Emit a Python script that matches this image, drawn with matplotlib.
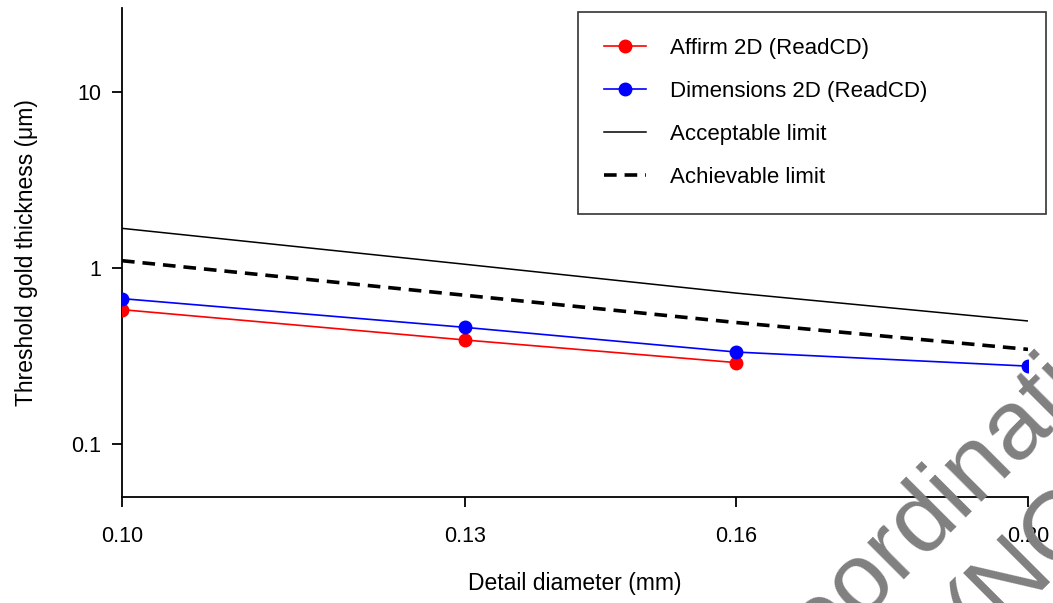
import matplotlib
matplotlib.use("Agg")
import matplotlib.pyplot as plt
from matplotlib.ticker import FixedLocator, FixedFormatter, NullLocator

plt.rcParams['font.family'] = ['Liberation Sans', 'DejaVu Sans']

# data
diameter = [0.10, 0.13, 0.16, 0.20]
affirm_x = [0.10, 0.13, 0.16]
affirm = [0.58, 0.39, 0.29]
dimensions = [0.67, 0.46, 0.333, 0.277]
acceptable = [1.68, 1.05, 0.72, 0.50]
achievable = [1.10, 0.70, 0.49, 0.345]
x_ticks = [0.10, 0.13, 0.16, 0.20]
x_labels = ['0.10', '0.13', '0.16', '0.20']
y_ticks = [0.1, 1, 10]
y_labels = ['0.1', '1', '10']

W, H = 1053, 603
fig = plt.figure(figsize=(W / 100, H / 100), dpi=100)
ax = fig.add_axes([122 / W, 1 - 497 / H, (1028 - 122) / W, (497 - 8) / H])

ax.plot(affirm_x, affirm, color='#ff0000', lw=1.2, marker='o', ms=9,
        label='Affirm 2D (ReadCD)', zorder=4)
ax.plot(diameter, dimensions, color='#0000ff', lw=1.2, marker='o', ms=9,
        label='Dimensions 2D (ReadCD)', zorder=4)
ax.plot(diameter, acceptable, color='black', lw=1.1, label='Acceptable limit')
ax.plot(diameter, achievable, color='black', lw=2.6, ls=(0, (3.5, 2.2)),
        label='Achievable limit')

ax.set_xscale('log')
ax.set_yscale('log')
ax.set_xlim(0.10, 0.20)
ax.set_ylim(0.05, 30)
ax.xaxis.set_major_locator(FixedLocator(x_ticks))
ax.xaxis.set_major_formatter(FixedFormatter(x_labels))
ax.xaxis.set_minor_locator(NullLocator())
ax.yaxis.set_major_locator(FixedLocator(y_ticks))
ax.yaxis.set_major_formatter(FixedFormatter(y_labels))
ax.yaxis.set_minor_locator(NullLocator())

for s in ['top', 'right']:
    ax.spines[s].set_visible(False)
for s in ['left', 'bottom']:
    ax.spines[s].set_linewidth(1.3)
ax.tick_params(axis='both', length=7, width=1.3, labelsize=15.5)
ax.tick_params(axis='x', pad=14)
ax.tick_params(axis='y', pad=8)
for lab in ax.get_xticklabels() + ax.get_yticklabels():
    lab.set_clip_on(False)

ax.set_xlabel('Detail diameter (mm)', fontsize=16.5, labelpad=18)
ax.set_ylabel('Threshold gold thickness (\u03bcm)', fontsize=16.5, labelpad=24)

# legend frame stretched to the reference box, entries left aligned
leg = ax.legend(loc='upper left',
                bbox_to_anchor=(578 / W, 1 - 207 / H, (1046 - 578) / W, 195 / H),
                bbox_transform=fig.transFigure, mode='expand', borderaxespad=0,
                fontsize=16, frameon=True, fancybox=False, edgecolor='black',
                handlelength=1.9, handletextpad=1.1, labelspacing=1.0,
                borderpad=1.15)
leg.get_frame().set_linewidth(1.2)

# watermark in the lower right corner
wm = dict(fontsize=71, color='#808080', rotation=45, rotation_mode='anchor',
          ha='left', va='baseline', zorder=10)
fig.text(770 / W, 1 - 708 / H, 'Coordination', **wm)
fig.text(982 / W, 1 - 645 / H, '(NOT', **wm)

fig.savefig('out.png', dpi=100)
